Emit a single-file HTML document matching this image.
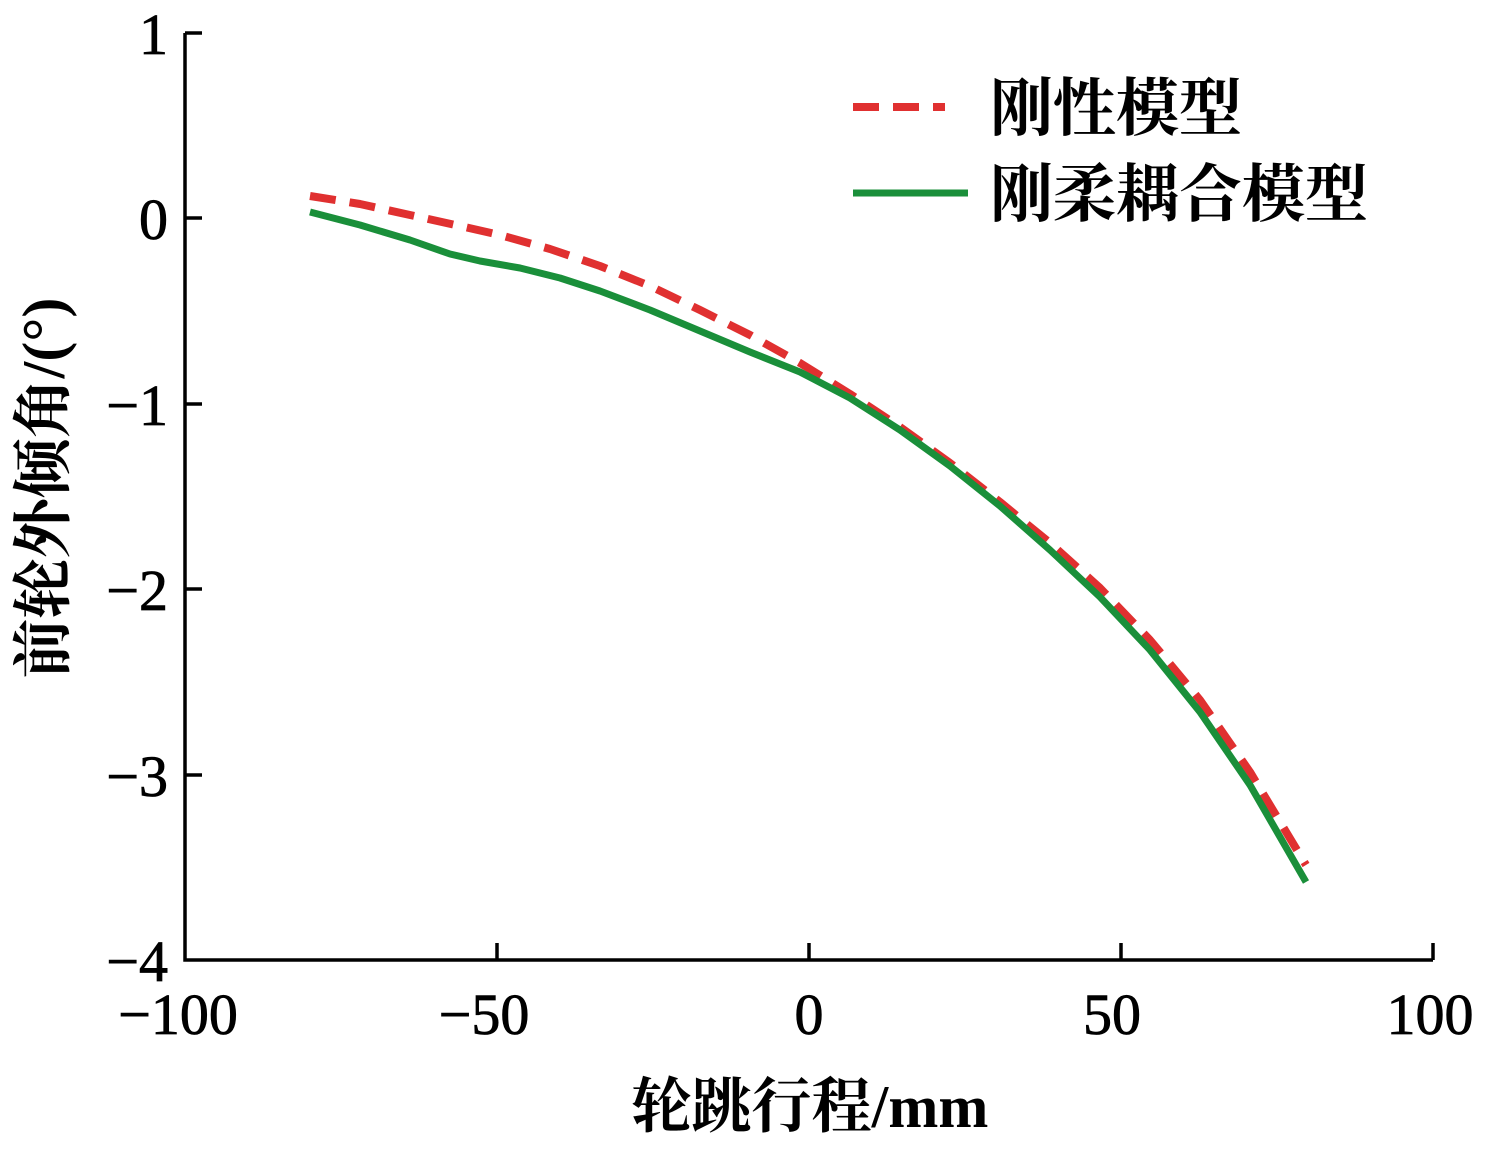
<!DOCTYPE html>
<html><head><meta charset="utf-8"><style>html,body{margin:0;padding:0;background:#fff}</style></head>
<body>
<svg width="1492" height="1147" xmlns="http://www.w3.org/2000/svg" font-family="'Liberation Serif','Noto Serif CJK SC',serif" font-weight="bold">
<rect width="1492" height="1147" fill="#fff"/>
<g stroke="#000" stroke-width="3.5" fill="none">
<path d="M185,33 V960 H1433"/>
<path d="M185,33 H202 M185,218 H202 M185,404 H202 M185,589 H202 M185,775 H202"/>
<path d="M497,960 V943 M809,960 V943 M1121,960 V943 M1433,960 V943"/>
</g>
<g font-size="58" text-anchor="end" fill="#000" font-weight="normal" stroke="#000" stroke-width="0.8">
<text x="168" y="54">1</text>
<text x="168" y="239">0</text>
<text x="168" y="425">−1</text>
<text x="168" y="610">−2</text>
<text x="168" y="796">−3</text>
<text x="168" y="981">−4</text>
</g>
<g font-size="58" text-anchor="middle" fill="#000" font-weight="normal" stroke="#000" stroke-width="0.8">
<text x="178" y="1034">−100</text>
<text x="484" y="1034">−50</text>
<text x="809" y="1034">0</text>
<text x="1112" y="1034">50</text>
<text x="1430" y="1034">100</text>
</g>
<text x="810" y="1127" font-size="60" text-anchor="middle">轮跳行程/mm</text>
<text transform="translate(64,488) rotate(-90)" font-size="60" text-anchor="middle">前轮外倾角/(°)</text>
<polyline points="310,196 360,204 410,215 460,226 500,235 550,249 600,266 650,286 700,310 750,335 800,363 850,394 900,427 950,463 1000,502 1050,543 1100,588 1150,640 1200,700 1250,772 1306,865" stroke="#e03030" stroke-width="8" fill="none" stroke-dasharray="26,14" stroke-linejoin="round"/>
<polyline points="310,212 360,225 410,240 450,254 480,261 520,268 560,278 600,291 650,310 700,331 750,352 800,372 850,398 900,430 950,466 1000,506 1050,550 1100,597 1150,650 1200,712 1250,785 1306,882" stroke="#1a8f3a" stroke-width="7" fill="none" stroke-linejoin="round"/>
<line x1="853" y1="107" x2="945" y2="107" stroke="#e03030" stroke-width="8" stroke-dasharray="26,14"/>
<line x1="853" y1="193" x2="968" y2="193" stroke="#1a8f3a" stroke-width="7"/>
<text x="990" y="130" font-size="63">刚性模型</text>
<text x="990" y="216" font-size="63">刚柔耦合模型</text>
</svg>
</body></html>
